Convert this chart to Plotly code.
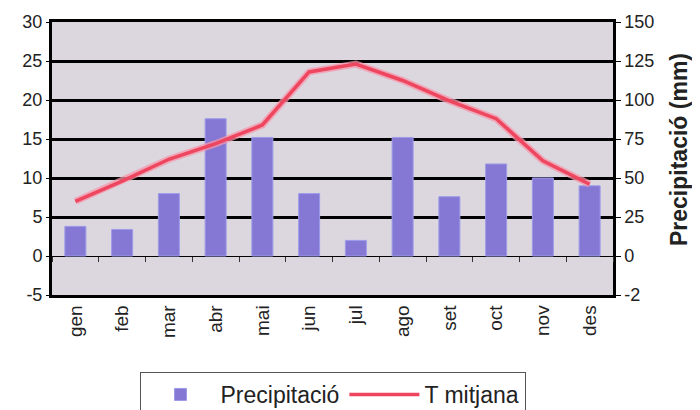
import plotly.graph_objects as go

months = ["gen", "feb", "mar", "abr", "mai", "jun", "jul", "ago", "set", "oct", "nov", "des"]
precipitacio = [19, 17, 40, 88, 76, 40, 10, 76, 38, 59, 50, 45]
t_mitjana = [7.0, 9.6, 12.4, 14.4, 16.8, 23.6, 24.6, 22.5, 19.9, 17.6, 12.2, 9.2]

precip_ticks = [-25, 0, 25, 50, 75, 100, 125, 150]
precip_ticktext = ["-2", "0", "25", "50", "75", "100", "125", "150"]
temp_ticks = [-5, 0, 5, 10, 15, 20, 25, 30]
temp_ticktext = ["-5", "0", "5", "10", "15", "20", "25", "30"]

FONT = "Liberation Sans, Arial, sans-serif"

# page body has an 8px margin: figure sized/placed to compensate
W, H = 692, 402
ML, MR, MT, MB = 44, 87, 14, 115
plot_w = W - ML - MR
plot_h = H - MT - MB

fig = go.Figure()

fig.add_trace(go.Bar(
    x=months, y=precipitacio, name="Precipitació",
    xaxis="x", yaxis="y",
    width=0.45,
    marker=dict(color="#8478d4", line=dict(color="#9d9ce8", width=1)),
))

# dummy trace for tick marks along the zero line
fig.add_trace(go.Scatter(
    x=months, y=[None] * len(months), xaxis="x2", yaxis="y",
    showlegend=False, hoverinfo="skip", mode="lines",
))

fig.add_trace(go.Scatter(
    x=months, y=t_mitjana, name="T mitjana",
    xaxis="x", yaxis="y2", mode="lines",
    line=dict(color="rgba(246,150,170,0.75)", width=7),
    showlegend=False, hoverinfo="skip",
))
fig.add_trace(go.Scatter(
    x=months, y=t_mitjana, name="T mitjana",
    xaxis="x", yaxis="y2", mode="lines",
    line=dict(color="#ef4660", width=3.5),
))

fig.update_layout(
    width=W, height=H,
    margin=dict(l=ML, r=MR, t=MT, b=MB),
    paper_bgcolor="white",
    plot_bgcolor="#dcd6df",
    font=dict(family=FONT, color="#222", size=18),
    xaxis=dict(
        type="category", categoryorder="array", categoryarray=months,
        tickangle=-90, tickfont=dict(size=19), automargin=False,
        showline=True, linecolor="black", linewidth=2.5, mirror=True,
        showgrid=False, ticks="",
    ),
    xaxis2=dict(
        type="category", categoryorder="array", categoryarray=months,
        overlaying="x", matches="x", anchor="free", position=25 / 175,
        ticks="outside", tickson="boundaries", ticklen=5, tickcolor="#333",
        showticklabels=False, showline=False, showgrid=False, zeroline=False,
        automargin=False,
    ),
    yaxis=dict(
        side="right", range=[-25, 150], automargin=False,
        tickmode="array", tickvals=precip_ticks, ticktext=precip_ticktext,
        showgrid=True, gridcolor="black", gridwidth=2.5,
        zeroline=True, zerolinecolor="black", zerolinewidth=1,
        showline=True, linecolor="black", linewidth=2.5, mirror=True,
        ticks="outside", ticklen=5, tickcolor="black",
        tickfont=dict(size=18),
    ),
    yaxis2=dict(
        side="left", overlaying="y", range=[-5, 30], automargin=False,
        tickmode="array", tickvals=temp_ticks, ticktext=temp_ticktext,
        showgrid=False, zeroline=False, showline=False,
        ticks="outside", ticklen=5, tickcolor="black",
        tickfont=dict(size=18),
    ),
    legend=dict(
        orientation="h", x=0.5, xanchor="center",
        yref="container", y=1 - 364 / H, yanchor="top",
        bordercolor="#555", borderwidth=1, bgcolor="white",
        font=dict(size=23), itemwidth=70,
    ),
    showlegend=True,
    annotations=[dict(
        text="Precipitació (mm)", textangle=-90,
        xref="paper", yref="paper",
        x=(671 - ML) / plot_w, y=(H - MB - 142) / plot_h,
        xanchor="center", yanchor="middle", showarrow=False,
        font=dict(size=23, weight="bold", color="#222"),
    )],
)

fig.write_html("out.html")
